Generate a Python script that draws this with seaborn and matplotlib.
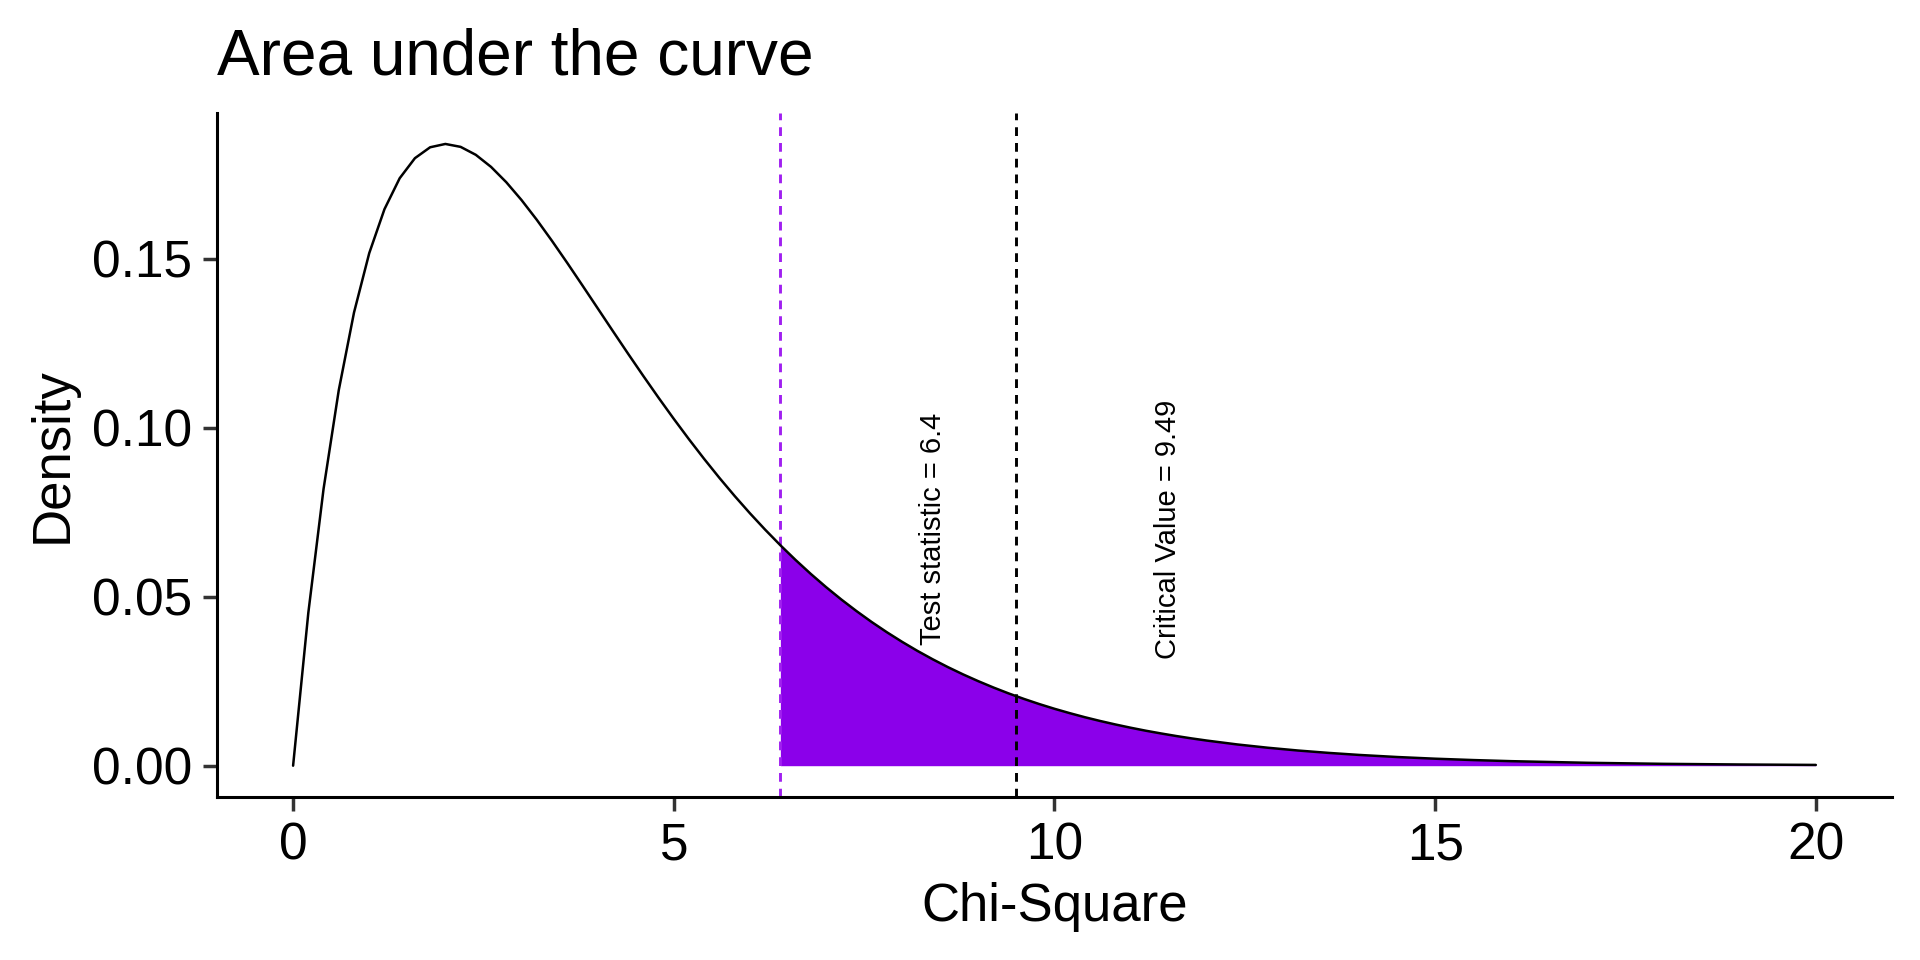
import pandas as pd
import matplotlib.pyplot as plt
import seaborn as sns

# Chi-square values and the density
chi_sq = [0, 0.2, 0.4, 0.6, 0.8, 1.0, 1.2, 1.4, 1.6, 1.8, 2.0, 2.2, 2.4, 2.6, 2.8,
          3.0, 3.2, 3.4, 3.6, 3.8, 4.0, 4.2, 4.4, 4.6, 4.8, 5.0, 5.2, 5.4, 5.6, 5.8,
          6.0, 6.2, 6.4, 6.6, 6.8, 7.0, 7.2, 7.4, 7.6, 7.8, 8.0, 8.2, 8.4, 8.6, 8.8,
          9.0, 9.2, 9.4, 9.6, 9.8, 10.0, 10.2, 10.4, 10.6, 10.8, 11.0, 11.2, 11.4,
          11.6, 11.8, 12.0, 12.4, 12.8, 13.2, 13.6, 14.0, 14.5, 15.0, 15.5, 16.0,
          17.0, 18.0, 19.0, 20.0]
density = [0.0, 0.04524, 0.08187, 0.11112, 0.13406, 0.15163, 0.16464, 0.17380,
           0.17973, 0.18296, 0.18394, 0.18308, 0.18072, 0.17715, 0.17262, 0.16735,
           0.16152, 0.15528, 0.14877, 0.14209, 0.13534, 0.12858, 0.12188, 0.11530,
           0.10886, 0.10261, 0.09656, 0.09073, 0.08513, 0.07978, 0.07468, 0.06983,
           0.06522, 0.06086, 0.05673, 0.05284, 0.04918, 0.04574, 0.04250, 0.03947,
           0.03663, 0.03397, 0.03149, 0.02917, 0.02701, 0.02500, 0.02312, 0.02137,
           0.01975, 0.01824, 0.01684, 0.01555, 0.01434, 0.01323, 0.01220, 0.01124,
           0.01035, 0.00954, 0.00878, 0.00808, 0.00744, 0.00629, 0.00532, 0.00449,
           0.00379, 0.00319, 0.00257, 0.00207, 0.00167, 0.00134, 0.00086, 0.00055,
           0.00036, 0.00023]

test_statistic = 6.4
critical_value = 9.49
label_y = 0.07
label_offset = 2

df = pd.DataFrame({'chi_sq': chi_sq, 'density': density})
tail = df[df['chi_sq'] >= test_statistic]

sns.set_theme(style='ticks')
plt.rcParams['font.family'] = ['Liberation Sans', 'DejaVu Sans']
plt.rcParams['text.color'] = 'black'
plt.rcParams['axes.labelcolor'] = 'black'

fig = plt.figure(figsize=(19.2, 9.6), dpi=100)
ax = fig.add_axes([0.113, 0.170, 0.8724, 0.7123])

# shaded tail beyond the test statistic
ax.fill_between(tail['chi_sq'], 0, tail['density'], color='#8B00EA', linewidth=0, zorder=1)
sns.lineplot(data=df, x='chi_sq', y='density', color='black', linewidth=1.8, ax=ax, zorder=3)

ax.axvline(test_statistic, color='#A020F0', linestyle=(0, (3, 2.4)), linewidth=2.1, zorder=2)
ax.axvline(critical_value, color='black', linestyle=(0, (3, 2.4)), linewidth=2.1, zorder=2)

ax.text(test_statistic + label_offset, label_y, 'Test statistic = 6.4', rotation=90,
        ha='center', va='center', fontsize=21, color='black')
ax.text(critical_value + label_offset, label_y, 'Critical Value = 9.49', rotation=90,
        ha='center', va='center', fontsize=21, color='black')

ax.set_xlim(-1, 21)
ax.set_ylim(-0.0092, 0.1931)
ax.set_xticks([0, 5, 10, 15, 20])
ax.set_yticks([0.0, 0.05, 0.10, 0.15])
ax.set_yticklabels(['0.00', '0.05', '0.10', '0.15'])

ax.set_title('Area under the curve', loc='left', fontsize=46, pad=28, color='black')
ax.set_xlabel('Chi-Square', fontsize=38, labelpad=8)
ax.set_ylabel('Density', fontsize=38, labelpad=10)

ax.tick_params(axis='both', labelsize=37, length=10, width=2.5, color='#333333',
               labelcolor='black', pad=8)
sns.despine(ax=ax)
for side in ['left', 'bottom']:
    ax.spines[side].set_linewidth(2.2)
    ax.spines[side].set_color('black')

plt.savefig('out.png', dpi=100)
